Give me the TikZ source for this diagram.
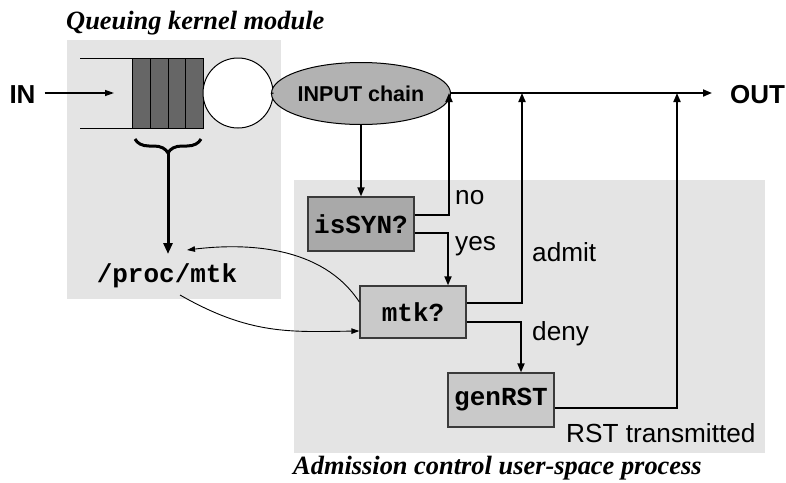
\documentclass[tikz,border=0pt]{standalone}
\usepackage{fontspec}
\setmainfont{Liberation Serif}
\setsansfont{Liberation Sans}
\setmonofont{Liberation Mono}
\usetikzlibrary{arrows.meta,shapes.geometric,decorations.pathreplacing}

\definecolor{panel}{HTML}{E4E4E4}
\definecolor{qdark}{HTML}{666666}
\definecolor{boxdark}{HTML}{A9A9A9}
\definecolor{boxlight}{HTML}{C9C9C9}
\definecolor{chainfill}{HTML}{B2B2B2}
\definecolor{edge}{HTML}{3A3A3A}

\tikzset{
  flow/.style={line width=1.8pt, -{Triangle[length=9pt,width=7pt]}},
  thinflow/.style={line width=0.9pt, -{Triangle[length=8pt,width=5.5pt]}},
  procbox/.style={draw=edge, line width=1.3pt, rectangle, inner sep=0pt,
    minimum width=106pt, font=\ttfamily\bfseries\fontsize{26}{26}\selectfont},
  tag/.style={font=\sffamily\fontsize{26.2}{26.2}\selectfont, inner sep=0pt},
  endtag/.style={font=\sffamily\bfseries\fontsize{26}{26}\selectfont, inner sep=0pt},
  caption/.style={font=\rmfamily\bfseries\itshape\fontsize{26.4}{26.4}\selectfont, inner sep=0pt},
}

\begin{document}
\begin{tikzpicture}[x=1pt,y=-1pt]
\useasboundingbox (0,0) rectangle (786,482);

% background panels
\fill[panel] (67,40) rectangle (281,299);
\fill[panel] (294,180) rectangle (765,453);

% panel captions
\node[caption, anchor=base west] (kcap) at (66,29) {Queuing kernel module};
\node[caption, anchor=base west] (ucap) at (293,474) {Admission control user-space process};

% queue: buffer walls, packet slots and server
\draw[line width=1pt] (80,58) -- (132,58);
\draw[line width=1pt] (80,128) -- (132,128);
\filldraw[fill=qdark, draw=black, line width=1pt] (132,58) rectangle (203,128);
\foreach \xx in {150,168,185} \draw[line width=1pt] (\xx,58) -- (\xx,128);
\node[circle, draw=black, line width=1pt, fill=white, minimum size=70pt, inner sep=0pt] (srv) at (238,93) {};

% ingress
\node[endtag] (in) at (22.5,94.5) {IN};
\coordinate (qin) at (114,93);
\draw[line width=1.3pt, -{Triangle[length=9pt,width=6pt]}] ([xshift=9pt]in.east |- qin) -- (qin);

% netfilter chain
\node[ellipse, draw=black, line width=1pt, fill=chainfill, minimum width=144pt, minimum height=62pt,
      inner sep=0pt, font=\sffamily\bfseries\fontsize{21.5}{21.5}\selectfont] (chain) at (361,93.5) {INPUT chain};
\draw[line width=1pt] (srv.east) -- (chain.west);

% egress and joining points
\coordinate (outpt) at (712,93);
\coordinate (j1) at (449,93);
\coordinate (j2) at (522,93);
\coordinate (j3) at (677,93);
\draw[flow] (chain.east |- outpt) -- (outpt);
\node[endtag] (out) at (757.5,94.5) {OUT};

% user-space decision boxes
\node[procbox, fill=boxdark, minimum height=54pt] (issyn) at (361,224) {isSYN?};
\node[procbox, fill=boxlight, minimum height=52pt] (mtk) at (413,312) {mtk?};
\node[procbox, fill=boxlight, minimum height=54pt] (genrst) at (501,400) {genRST};

\draw[flow] (chain.south) -- (issyn.north);
\draw[flow] ([yshift=9pt]issyn.east) -| (j1);
\draw[flow] ([yshift=-9pt]issyn.east) -| ([xshift=35pt]mtk.north);
\draw[flow] ([yshift=9pt]mtk.east) -| (j2);
\draw[flow] ([yshift=-10pt]mtk.east) -| ([xshift=20pt]genrst.north);
\draw[flow] ([yshift=-8pt]genrst.east) -| (j3);

% branch labels
\node[tag, anchor=base west] (lno) at (455,204) {no};
\node[tag, anchor=base west] (lyes) at (455,250) {yes};
\node[tag, anchor=base west] (ladmit) at (532,261) {admit};
\node[tag, anchor=base west] (ldeny) at (532,340) {deny};
\node[tag, anchor=base west] (lrst) at (566,442) {RST transmitted};

% proc interface
\node[font=\ttfamily\bfseries\fontsize{26}{26}\selectfont, inner sep=0pt, anchor=base] (proc) at (167,282) {/proc/mtk};
\draw[line width=3pt, decorate, decoration={brace, amplitude=14pt}] (201,139) -- (135,139);
\coordinate (btip) at (168,152);
\coordinate (ptop) at (168,254);
\draw[line width=3pt, -{Triangle[length=11pt,width=9pt]}] (btip) -- (ptop);

% exchange between mtk? and /proc/mtk
\coordinate (pin) at (187,250);
\coordinate (pout) at (180,295);
\draw[thinflow] ([yshift=10pt]mtk.west) .. controls (322,245) and (245,243) .. (pin);
\draw[thinflow] (pout) .. controls (250,335) and (290,332) .. ([yshift=-19pt]mtk.west);
\end{tikzpicture}
\end{document}
